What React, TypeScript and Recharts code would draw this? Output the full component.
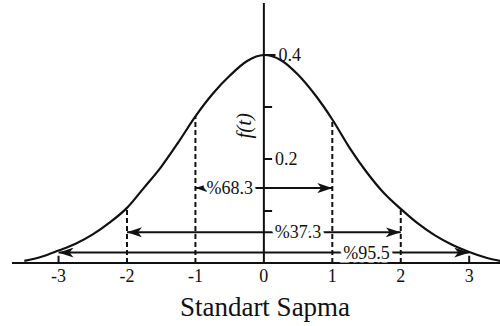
import { Line, LineChart, ReferenceDot, ReferenceLine, XAxis, YAxis } from 'recharts'

// standard deviations along the horizontal axis
const sigmaTicks = [-3, -2, -1, 0, 1, 2, 3]

// bell curve, sampled every quarter sigma
const tValues = [
  -3.5, -3.25, -3, -2.75, -2.5, -2.25, -2, -1.75, -1.5, -1.25, -1, -0.75, -0.5, -0.25, 0,
  0.25, 0.5, 0.75, 1, 1.25, 1.5, 1.75, 2, 2.25, 2.5, 2.75, 3, 3.25, 3.5,
]
const density = [
  0.004, 0.012, 0.024, 0.037, 0.055, 0.078, 0.106, 0.145, 0.185, 0.232, 0.282, 0.325, 0.36, 0.388, 0.4,
  0.39, 0.362, 0.323, 0.276, 0.222, 0.175, 0.135, 0.104, 0.076, 0.053, 0.035, 0.021, 0.01, 0.003,
]

// f(t) axis ticks
const fTicks = [0.1, 0.2, 0.3, 0.4]
const fTickLabels = ['', '0.2', '', '0.4']

// coverage arrows: half width in sigma, height on the f(t) scale, where the text sits
const bandLabels = ['%68.3', '%37.3', '%95.5']
const bandHalfWidths = [1, 2, 3]
const bandLevels = [0.144, 0.059, 0.02]
const bandLabelAt = [-0.5, 0.5, 1.5]

// dashed guides from the baseline up to the curve
const guideSigmas = [-2, -1, 1, 2]

const curve = tValues.map((t, i) => ({ t, f: density[i] }))
const densityAt = (t: number) => density[tValues.indexOf(t)]

const INK = '#111'
const SERIF = 'Liberation Serif'

const ArrowLine = (props: any) => (
  <line
    x1={props.x1}
    y1={props.y1}
    x2={props.x2}
    y2={props.y2}
    stroke={INK}
    strokeWidth={2}
    markerStart="url(#arrowHead)"
    markerEnd="url(#arrowHead)"
  />
)

const haloText = (text: string) => (props: any) => {
  const { viewBox } = props
  return (
    <text
      x={viewBox.x + viewBox.width / 2}
      y={viewBox.y + viewBox.height / 2}
      textAnchor="middle"
      dominantBaseline="central"
      fontFamily={SERIF}
      fontSize={18}
      fill={INK}
      stroke="#fff"
      strokeWidth={7}
      paintOrder="stroke"
    >
      {text}
    </text>
  )
}

const fLabel = (props: any) => {
  const { viewBox } = props
  const x = viewBox.x + viewBox.width / 2
  const y = viewBox.y + viewBox.height / 2
  return (
    <text
      x={x}
      y={y}
      transform={`rotate(-90 ${x} ${y})`}
      textAnchor="middle"
      dominantBaseline="central"
      fontFamily={SERIF}
      fontStyle="italic"
      fontSize={21}
      fill={INK}
    >
      f(t)
    </text>
  )
}

const axisTitle = (props: any) => {
  const { viewBox } = props
  return (
    <text
      x={viewBox.x + viewBox.width / 2 + 9}
      y={viewBox.y + viewBox.height + 23}
      textAnchor="middle"
      fontFamily={SERIF}
      fontSize={27}
      fill={INK}
    >
      Standart Sapma
    </text>
  )
}

export default function App() {
  return (
    <div style={{ position: 'absolute', left: 0, top: 0, width: 500, height: 326, background: '#fff' }}>
      <LineChart width={500} height={326} data={curve} margin={{ top: 3, right: 0, bottom: 33, left: 12 }}>
        <defs>
          <marker
            id="arrowHead"
            viewBox="0 0 15 10"
            refX={15}
            refY={5}
            markerWidth={15}
            markerHeight={10}
            markerUnits="userSpaceOnUse"
            orient="auto-start-reverse"
          >
            <path d="M15,5 L0,0 L4,5 L0,10 Z" fill={INK} />
          </marker>
        </defs>
        <XAxis
          dataKey="t"
          type="number"
          domain={[-3.68, 3.45]}
          allowDataOverflow
          ticks={sigmaTicks}
          interval={0}
          height={30}
          tickLine={false}
          tickMargin={0}
          axisLine={{ stroke: INK, strokeWidth: 2 }}
          tick={{ fill: INK, fontSize: 18, fontFamily: SERIF }}
          label={{ content: axisTitle }}
        />
        <YAxis type="number" domain={[0, 0.5]} hide />

        {/* vertical f(t) axis through t = 0 */}
        <ReferenceLine
          segment={[{ x: 0, y: 0 }, { x: 0, y: 0.5 }]}
          stroke={INK}
          strokeWidth={2}
        />
        {fTicks.map((v, i) => (
          <ReferenceLine
            key={`ft-${v}`}
            segment={[{ x: 0, y: v }, { x: v === 0.4 ? 0.17 : 0.12, y: v }]}
            stroke={INK}
            strokeWidth={2}
            label={
              fTickLabels[i]
                ? { value: fTickLabels[i], position: 'right', offset: 3, fontSize: 18, fontFamily: SERIF, fill: INK }
                : undefined
            }
          />
        ))}
        {[-3, 3].map((s) => (
          <ReferenceLine
            key={`st-${s}`}
            segment={[{ x: s, y: 0 }, { x: s, y: 0.014 }]}
            stroke={INK}
            strokeWidth={2}
          />
        ))}

        {guideSigmas.map((s) => (
          <ReferenceLine
            key={`g-${s}`}
            segment={[{ x: s, y: 0 }, { x: s, y: densityAt(s) }]}
            stroke={INK}
            strokeWidth={2}
            strokeDasharray="5 3"
          />
        ))}

        {bandLabels.map((label, i) => (
          <ReferenceLine
            key={`b-${label}`}
            segment={[
              { x: -bandHalfWidths[i], y: bandLevels[i] },
              { x: bandHalfWidths[i], y: bandLevels[i] },
            ]}
            shape={ArrowLine}
          />
        ))}
        {bandLabels.map((label, i) => (
          <ReferenceDot
            key={`bl-${label}`}
            x={bandLabelAt[i]}
            y={bandLevels[i]}
            r={0}
            fill="none"
            stroke="none"
            label={{ content: haloText(label) }}
          />
        ))}
        <ReferenceDot x={-0.29} y={0.264} r={0} fill="none" stroke="none" label={{ content: fLabel }} />

        <Line
          type="monotone"
          dataKey="f"
          stroke={INK}
          strokeWidth={2.2}
          dot={false}
          activeDot={false}
          isAnimationActive={false}
        />
      </LineChart>
    </div>
  )
}
